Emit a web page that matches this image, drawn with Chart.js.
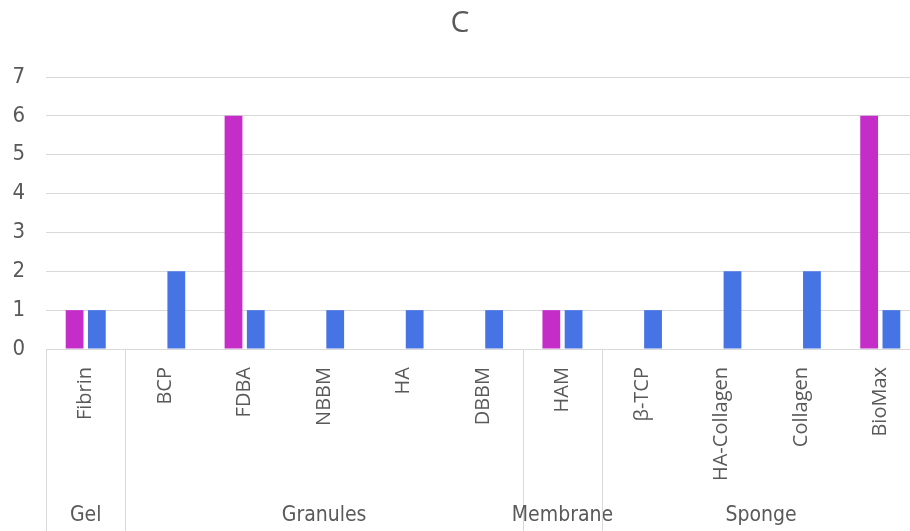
<!DOCTYPE html>
<html>
<head>
<meta charset="utf-8">
<script src="https://cdn.jsdelivr.net/npm/chart.js@4.4.0/dist/chart.umd.min.js"></script>
<style>
  html, body { margin: 0; padding: 0; overflow: hidden; background: #fff; }
  #wrap { width: 920px; height: 531px; }
</style>
</head>
<body>
<div id="wrap"><canvas id="chart" width="920" height="531"></canvas></div>
<script>
const categories = ['Fibrin', 'BCP', 'FDBA', 'NBBM', 'HA', 'DBBM', 'HAM', 'β-TCP', 'HA-Collagen', 'Collagen', 'BioMax']
const seriesA = [1, 0, 6, 0, 0, 0, 1, 0, 0, 0, 6]
const seriesB = [1, 2, 1, 1, 1, 1, 1, 1, 2, 2, 1]
const yTicks = [0, 1, 2, 3, 4, 5, 6, 7]

// groups of categories on the second label row: name, first index, last index
const groupNames = ['Gel', 'Granules', 'Membrane', 'Sponge']
const groupStart = [0, 1, 6, 7]
const groupEnd = [0, 5, 6, 10]

const textColor = '#595959'
const lineColor = '#d9d9d9'
const narrowFont = '"Liberation Sans Narrow", "DejaVu Sans Condensed", sans-serif'

const groupRows = {
    id: 'groupRows',
    afterDraw(chart) {
        const x = chart.scales.x
        const ctx = chart.ctx
        const half = (x.getPixelForValue(1) - x.getPixelForValue(0)) / 2
        const top = chart.chartArea.bottom
        const bottom = chart.height

        ctx.save()
        ctx.strokeStyle = lineColor
        ctx.lineWidth = 1
        ctx.fillStyle = textColor
        ctx.font = '21px ' + narrowFont
        ctx.textAlign = 'center'
        ctx.textBaseline = 'middle'

        groupNames.forEach((name, i) => {
            const left = x.getPixelForValue(groupStart[i]) - half
            const right = x.getPixelForValue(groupEnd[i]) + half
            const lx = Math.round(left) + 0.5
            ctx.beginPath()
            ctx.moveTo(lx, top)
            ctx.lineTo(lx, bottom)
            ctx.stroke()
            ctx.fillText(name, (left + right) / 2, 516)
        })
        ctx.restore()
    }
}

const chart = new Chart(document.getElementById('chart'), {
    type: 'bar',
    data: {
        labels: categories,
        datasets: [
            { data: seriesA, backgroundColor: '#C42DC8', categoryPercentage: 0.56, barPercentage: 0.8 },
            { data: seriesB, backgroundColor: '#4674E5', categoryPercentage: 0.56, barPercentage: 0.8 }
        ]
    },
    options: {
        responsive: false,
        animation: false,
        devicePixelRatio: 1,
        layout: { padding: 0 },
        plugins: {
            legend: { display: false },
            tooltip: { enabled: false },
            title: {
                display: true,
                text: 'C',
                color: textColor,
                font: { family: '"Open Sans", sans-serif', size: 30, weight: 'normal' },
                padding: { top: 5, bottom: 36 }
            }
        },
        scales: {
            x: {
                grid: { display: false },
                border: { display: true, color: lineColor },
                ticks: {
                    color: textColor,
                    font: { family: '"Open Sans", sans-serif', size: 20 },
                    minRotation: 90,
                    maxRotation: 90,
                    autoSkip: false,
                    padding: 10
                },
                afterFit: scale => { scale.height = 182 }
            },
            y: {
                min: 0,
                max: 7,
                afterBuildTicks: scale => { scale.ticks = yTicks.map(v => ({ value: v })) },
                grid: { color: lineColor, drawTicks: false },
                border: { display: false },
                ticks: {
                    color: textColor,
                    font: { family: narrowFont, size: 22 },
                    padding: 21
                },
                afterFit: scale => { scale.width = 46 }
            }
        }
    },
    plugins: [groupRows]
})
</script>
</body>
</html>
